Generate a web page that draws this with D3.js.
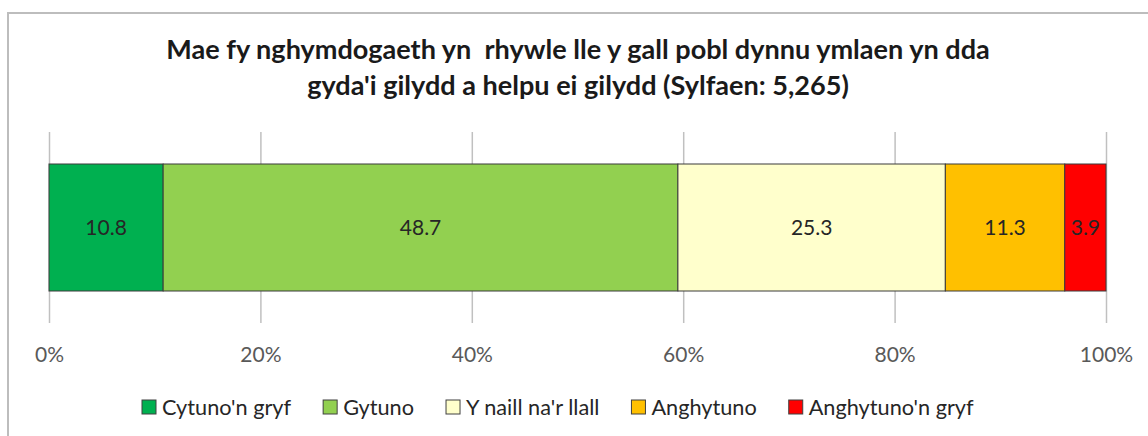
<!DOCTYPE html>
<html>
<head>
<meta charset="utf-8">
<script src="https://cdn.jsdelivr.net/npm/d3@7"></script>
<style>
  body { margin: 0; background: #fff; }
  svg { display: block; font-family: Lato, "Open Sans", sans-serif; }
  text { white-space: pre; }
</style>
</head>
<body>
<svg id="chart" width="1148" height="436"></svg>
<script>
// chart data
var titleLines = ["Mae fy nghymdogaeth yn  rhywle lle y gall pobl dynnu ymlaen yn dda",
                  "gyda'i gilydd a helpu ei gilydd (Sylfaen: 5,265)"];
var categories = ["Cytuno'n gryf", "Gytuno", "Y naill na'r llall", "Anghytuno", "Anghytuno'n gryf"];
var values = [10.8, 48.7, 25.3, 11.3, 3.9];
var colors = ["#00B050", "#92D050", "#FFFFCC", "#FFC000", "#FF0000"];
var tickValues = [0, 20, 40, 60, 80, 100];

var svg = d3.select("#chart");

// frame (only left + top edges show in the picture)
svg.append("path")
    .attr("d", "M8,440V13H1150")
    .attr("fill", "none")
    .attr("stroke", "#bdbdbd")
    .attr("stroke-width", 2);

// title, sized to fit the width of the first line
var title = svg.append("g");
var t1 = title.append("text").attr("x", 578).attr("y", 59).text(titleLines[0]);
var t2 = title.append("text").attr("x", 578).attr("y", 95).text(titleLines[1]);
title.selectAll("text")
    .attr("text-anchor", "middle")
    .attr("font-weight", "bold")
    .attr("fill", "#1a1a1a")
    .attr("font-size", 24);
var w1 = t1.node().getComputedTextLength();
title.selectAll("text").attr("font-size", 24 * 824 / w1);

var x = d3.scaleLinear().domain([0, 100]).range([49, 1106]);
var gridTop = 132, gridBottom = 323, barTop = 164, barBottom = 291;

// axis with gridlines
var xAxis = d3.axisBottom(x)
    .tickValues(tickValues)
    .tickSize(-(gridBottom - gridTop))
    .tickFormat(function (d) { return d + "%"; });

var axisG = svg.append("g")
    .attr("transform", "translate(0," + gridBottom + ")")
    .call(xAxis);
axisG.select(".domain").remove();
axisG.selectAll(".tick line").attr("stroke", "#c0c0c0").attr("stroke-width", 1.5);
axisG.selectAll(".tick text")
    .attr("fill", "#595959")
    .attr("font-size", 21)
    .attr("font-family", "Lato, sans-serif")
    .attr("y", 39)
    .attr("dy", 0);

// stacked segments
var stack = [];
var acc = 0;
values.forEach(function (v, i) {
    stack.push({ start: acc, end: acc + v, value: v, color: colors[i] });
    acc += v;
});

var seg = svg.append("g").selectAll("g").data(stack).enter().append("g");
seg.append("rect")
    .attr("x", function (d) { return x(d.start); })
    .attr("width", function (d) { return x(d.end) - x(d.start); })
    .attr("y", barTop)
    .attr("height", barBottom - barTop)
    .attr("fill", function (d) { return d.color; })
    .attr("stroke", "#3a3a3a")
    .attr("stroke-width", 1);
seg.append("text")
    .attr("x", function (d) { return (x(d.start) + x(d.end)) / 2; })
    .attr("y", (barTop + barBottom) / 2)
    .attr("dy", "0.35em")
    .attr("text-anchor", "middle")
    .attr("font-size", 21)
    .attr("fill", "#262626")
    .text(function (d) { return d.value.toFixed(1); });

// legend, font fitted so the row spans about 142..974
var legend = svg.append("g");
var items = legend.selectAll("g").data(categories).enter().append("g");
items.append("rect")
    .attr("width", 14).attr("height", 14)
    .attr("y", -7)
    .attr("fill", function (d, i) { return colors[i]; })
    .attr("stroke", "#404040")
    .attr("stroke-width", 1);
var labels = items.append("text")
    .attr("x", 20)
    .attr("dy", "0.35em")
    .attr("font-size", 20)
    .attr("fill", "#262626")
    .text(function (d) { return d; });

var textW = 0;
labels.each(function () { textW += this.getComputedTextLength(); });
labels.attr("font-size", 20 * (832 - 5 * 20 - 4 * 32) / textW);

var pos = 142;
items.each(function () {
    var g = d3.select(this);
    g.attr("transform", "translate(" + pos + ",407)");
    pos += 20 + g.select("text").node().getComputedTextLength() + 32;
});
</script>
</body>
</html>
